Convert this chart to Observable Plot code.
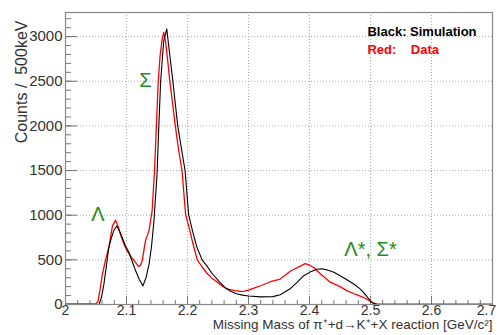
<!DOCTYPE html>
<html>
<head>
<meta charset="utf-8">
<script src="https://cdn.jsdelivr.net/npm/d3@7"></script>
<script src="https://cdn.jsdelivr.net/npm/@observablehq/plot@0.6"></script>
<style>
  html, body { margin: 0; padding: 0; background: #fff; }
  svg { display: block; }
</style>
</head>
<body>
<div id="chart"></div>
<script>
// Red: Data
const dataX = [2.000,2.020,2.040,2.050,2.053,2.057,2.060,2.065,2.071,2.077,2.082,2.086,2.090,2.095,2.101,2.108,2.115,2.120,2.123,2.126,2.131,2.137,2.142,2.146,2.149,2.152,2.155,2.158,2.161,2.164,2.168,2.171,2.176,2.180,2.185,2.191,2.194,2.197,2.203,2.209,2.216,2.224,2.232,2.240,2.246,2.255,2.262,2.268,2.278,2.290,2.300,2.310,2.320,2.336,2.352,2.369,2.385,2.393,2.400,2.407,2.420,2.434,2.450,2.462,2.475,2.489,2.503,2.510,2.520,2.600,2.700];
const dataY = [8,8,8,8,30,180,320,480,640,880,945,880,790,690,600,530,470,425,440,500,710,830,1050,1500,2000,2500,2780,2950,3048,2950,2700,2500,2230,2000,1750,1500,1250,1000,850,680,500,420,350,295,265,215,185,170,155,145,160,185,210,255,285,375,430,458,440,414,330,250,200,152,115,78,22,8,4,3,3];
// Black: Simulation
const simX = [2.000,2.055,2.059,2.063,2.067,2.071,2.075,2.079,2.084,2.088,2.093,2.098,2.104,2.110,2.115,2.121,2.127,2.132,2.137,2.141,2.145,2.150,2.153,2.156,2.161,2.166,2.170,2.176,2.184,2.190,2.196,2.199,2.202,2.208,2.215,2.224,2.232,2.240,2.251,2.262,2.270,2.280,2.290,2.300,2.320,2.340,2.352,2.369,2.380,2.390,2.400,2.412,2.420,2.428,2.440,2.451,2.462,2.473,2.482,2.489,2.495,2.500,2.505,2.510,2.600];
const simY = [0,0,80,228,430,638,740,825,880,830,750,660,582,470,377,280,208,300,452,650,937,1450,2000,2500,2950,3086,2850,2500,2000,1750,1500,1250,1000,830,650,500,430,350,265,185,150,120,105,95,85,88,110,180,250,320,360,395,400,388,360,320,275,227,180,133,80,40,10,2,0];

const xMajor = [2, 2.1, 2.2, 2.3, 2.4, 2.5, 2.6, 2.7];
const xLabelsInner = [2, 2.1, 2.2, 2.3, 2.4, 2.5, 2.6];
const xLabelsEdge = [2.7];
const xMinor = d3.range(0, 36).map(i => +(2 + i * 0.02).toFixed(2));
const yMajor = [0, 500, 1000, 1500, 2000, 2500, 3000];
const yMinor = d3.range(0, 33).map(i => i * 100);
const xGrid = [2.1, 2.2, 2.3, 2.4, 2.5, 2.6];
const yGrid = [500, 1000, 1500, 2000, 2500, 3000];

const xTitle = "Missing Mass of π⁺+d→K⁺+X reaction [GeV/c²]";
const yTitle = "Counts /  500keV";

const annotations = [
  {text: "Σ", x: 2.131, y: 2510},
  {text: "Λ", x: 2.053, y: 1005},
  {text: "Λ*, Σ*", x: 2.500, y: 612}
];
const legendRows = [
  {text: "Black: Simulation", x: 2.495, y: 3050, color: "#000"},
  {text: "Red:", x: 2.495, y: 2850, color: "#ff0000"},
  {text: "Data", x: 2.566, y: 2850, color: "#ff0000"}
];

const dataPts = dataX.map((x, i) => ({x, y: dataY[i]}));
const simPts = simX.map((x, i) => ({x, y: simY[i]}));

const W = 501, H = 335, mt = 12, mb = 31, ml = 65, mr = 9;
const plotH = H - mt - mb, plotW = W - ml - mr;
const green = "#1e8c1e";
const fmtX = d => d === 2 ? "2" : d3.format(".1f")(d);

const chart = Plot.plot({
  width: W, height: H,
  marginTop: mt, marginBottom: mb, marginLeft: ml, marginRight: mr,
  style: {fontFamily: "'Liberation Sans', Arial, sans-serif", background: "#fff"},
  x: {domain: [2, 2.7]},
  y: {domain: [0, 3270]},
  marks: [
    Plot.ruleX(xGrid, {x: d => d, stroke: "#aaa", strokeDasharray: "1,2", strokeWidth: 1}),
    Plot.ruleY(yGrid, {y: d => d, stroke: "#aaa", strokeDasharray: "1,2", strokeWidth: 1}),
    Plot.tickX(xMinor, {x: d => d, insetTop: plotH - 4, stroke: "#777"}),
    Plot.tickX(xMajor, {x: d => d, insetTop: plotH - 8, stroke: "#777"}),
    Plot.tickY(yMinor, {y: d => d, insetRight: plotW - 6, stroke: "#777"}),
    Plot.tickY(yMajor, {y: d => d, insetRight: plotW - 12, stroke: "#777"}),
    Plot.axisX({ticks: xLabelsInner, tickSize: 0, tickPadding: 1, label: null, fontSize: 14, fill: "#333", tickFormat: fmtX}),
    Plot.axisX({ticks: xLabelsEdge, tickSize: 0, tickPadding: 1, label: null, fontSize: 14, fill: "#333", tickFormat: fmtX, dx: -6}),
    Plot.axisY({ticks: yMajor, tickSize: 0, tickPadding: 3, label: null, fontSize: 15, fill: "#333",
      tickFormat: d => String(d)}),
    Plot.line(dataPts, {x: "x", y: "y", stroke: "#ff0000", strokeWidth: 1.3}),
    Plot.line(simPts, {x: "x", y: "y", stroke: "#000", strokeWidth: 1.1}),
    Plot.frame({stroke: "#888", strokeWidth: 1.2}),
    Plot.text(annotations, {x: "x", y: "y", text: "text", fill: green, fontSize: 20, textAnchor: "middle"}),
    Plot.text(legendRows, {x: "x", y: "y", text: "text", fill: "color", fontSize: 13, fontWeight: "bold", textAnchor: "start"}),
    Plot.text([xTitle], {frameAnchor: "bottom-right", dy: 24, textAnchor: "end", fontSize: 13.5, fill: "#333"}),
    Plot.text([yTitle], {frameAnchor: "top-left", dx: -50, dy: 8, rotate: -90, textAnchor: "end", fontSize: 16, fill: "#333"})
  ]
});
document.getElementById("chart").appendChild(chart);
</script>
</body>
</html>
